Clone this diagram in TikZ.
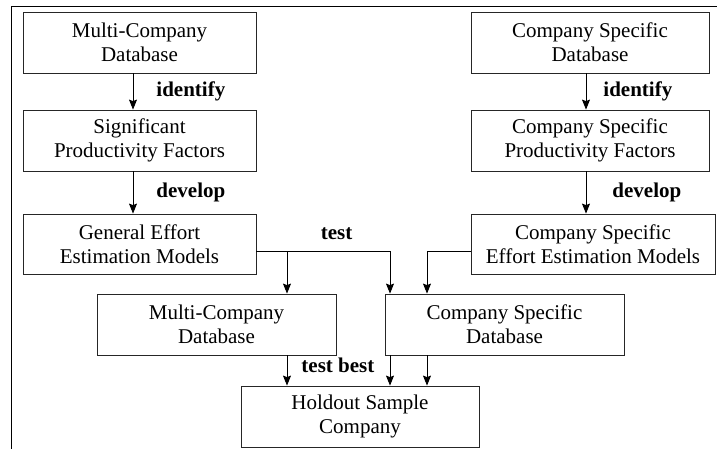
\documentclass[tikz,border=0pt]{standalone}
\usepackage{fontspec}
\setmainfont{Liberation Serif}
\usepackage{tikz}
\usetikzlibrary{calc}
\usetikzlibrary{arrows.meta,shapes}

\begin{document}
\begin{tikzpicture}[x=1pt,y=1pt,node distance=98pt,
    >={Stealth[length=10pt,width=8pt,inset=1.5pt]},
    box/.style={draw=black!85,line width=0.8pt,minimum height=61pt,inner sep=0pt,
      align=center,font=\fontsize{21}{24}\selectfont},
    lbl/.style={font=\fontsize{21}{24}\selectfont\bfseries,inner sep=0pt}]

      \useasboundingbox (0,0) rectangle (717,-449);
      \draw[line width=0.9pt] (11,-449) -- (11,-6) -- (717,-6);

      % multi-company side
      \node[box,minimum width=233pt] (mcdb) at (139.5,-42.5) {Multi-Company\\Database};
      \node[box,minimum width=233pt] (sigpf) [below of=mcdb] {Significant\\Productivity Factors};
      \node[box,minimum width=233pt,minimum height=60pt,node distance=103.5pt] (genm) [below of=sigpf] {General Effort\\Estimation Models};

      % company specific side
      \node[box,minimum width=238pt] (csdb) at (590,-42.5) {Company Specific\\Database};
      \node[box,minimum width=238pt] (cspf) [below of=csdb] {Company Specific\\Productivity Factors};
      \node[box,minimum width=244pt,minimum height=60pt] (csm) at (593,-244) {Company Specific\\Effort Estimation Models};

      % test data
      \node[box,minimum width=239pt] (mctest) at (216.5,-324.5) {Multi-Company\\Database};
      \node[box,minimum width=239pt] (cstest) at (504.5,-324.5) {Company Specific\\Database};
      \node[box,minimum width=238pt] (hold) at (360,-416.5) {Holdout Sample\\Company};

      \draw [->, line width=0.9pt] ($(mcdb.south)+(-6.5,0)$) -- node[lbl,right=23pt] (lidl) {identify} ($(sigpf.north)+(-6.5,0)$);
      \draw [->, line width=0.9pt] ($(sigpf.south)+(-6.5,0)$) -- node[lbl,right=23pt] (ldevl) {develop} ($(genm.north)+(-6.5,0)$);
      \draw [->, line width=0.9pt] ($(csdb.south)+(-4,0)$) -- node[lbl,right=17pt] (lidr) {identify} ($(cspf.north)+(-4,0)$);
      \draw [->, line width=0.9pt] ($(cspf.south)+(-4,0)$) -- node[lbl,right=26pt] (ldevr) {develop} ($(csm.north)+(-7,0)$);

      \draw [->, line width=0.9pt] ($(genm.east)+(0,-7)$) -| node[lbl,pos=0.3,above=11pt] (ltest) {test} ($(cstest.north)+(-114.5,0)$);
      \draw [->, line width=0.9pt] ($(genm.east)+(0,-7)$) -| ($(mctest.north)+(70.5,0)$);
      \draw [->, line width=0.9pt] ($(csm.west)+(0,-7)$) -| ($(cstest.north)+(-77.5,0)$);

      \draw [->, line width=0.9pt] ($(mctest.south)+(70.5,0)$) -- node[lbl,right=14pt,yshift=5pt] (lbest) {test best} ($(hold.north)+(-73,0)$);
      \draw [->, line width=0.9pt] ($(cstest.south)+(-114.5,0)$) -- ($(hold.north)+(30,0)$);
      \draw [->, line width=0.9pt] ($(cstest.south)+(-77.5,0)$) -- ($(hold.north)+(67,0)$);
    \end{tikzpicture}
\end{document}
